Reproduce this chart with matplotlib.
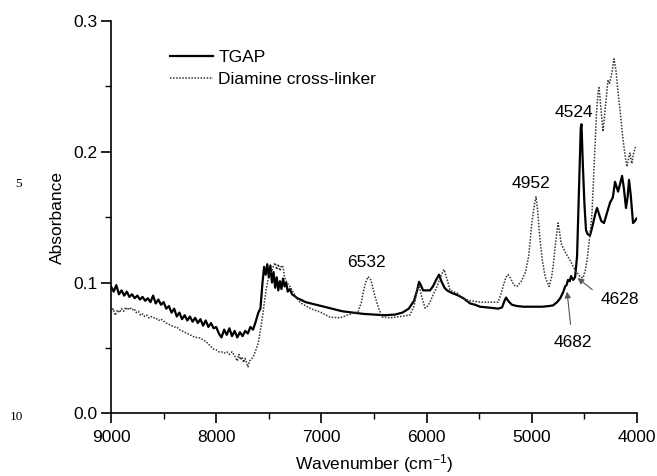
import numpy as np
import matplotlib
matplotlib.use("Agg")
import matplotlib.pyplot as plt

plt.rcParams['font.family'] = ['Liberation Sans', 'DejaVu Sans']
plt.rcParams['mathtext.default'] = 'regular'

# TGAP spectrum (wavenumber, absorbance)
tgap_wn = [9000, 8975, 8950, 8925, 8900, 8875, 8850, 8825, 8800, 8775, 8750, 8725, 8700, 8675,
           8650, 8625, 8600, 8575, 8550, 8525, 8500, 8475, 8450, 8425, 8400, 8375, 8350, 8325,
           8300, 8275, 8250, 8225, 8200, 8175, 8150, 8125, 8100, 8075, 8050, 8025, 8000, 7975,
           7950, 7925, 7900, 7875, 7850, 7825, 7800, 7775, 7750, 7725, 7700, 7675, 7650, 7625,
           7600, 7580, 7560, 7545, 7530, 7515, 7500, 7485, 7470, 7455, 7440, 7425, 7410, 7395,
           7380, 7365, 7350, 7335, 7320, 7300, 7280, 7260, 7230, 7200, 7150, 7100, 7050, 7000,
           6950, 6900, 6800, 6700, 6600, 6500, 6400, 6300, 6230, 6170, 6120, 6090, 6072, 6055,
           6034, 6000, 5968, 5940, 5910, 5882, 5860, 5830, 5806, 5760, 5711, 5650, 5587, 5540,
           5492, 5430, 5369, 5320, 5283, 5260, 5245, 5225, 5190, 5141, 5080, 4989, 4900, 4840,
           4798, 4760, 4730, 4700, 4684, 4670, 4656, 4640, 4627, 4608, 4589, 4570, 4550, 4535,
           4528, 4515, 4500, 4485, 4470, 4447, 4430, 4410, 4395, 4380, 4360, 4340, 4314, 4290,
           4257, 4230, 4209, 4190, 4180, 4160, 4142, 4125, 4105, 4090, 4076, 4060, 4038, 4020,
           4005]
tgap_abs = [0.097, 0.093, 0.098, 0.091, 0.094, 0.090, 0.093, 0.089, 0.091, 0.088, 0.090, 0.087,
            0.089, 0.086, 0.088, 0.085, 0.090, 0.084, 0.087, 0.083, 0.085, 0.080, 0.082, 0.077,
            0.080, 0.074, 0.077, 0.072, 0.075, 0.071, 0.074, 0.070, 0.073, 0.069, 0.072, 0.067,
            0.071, 0.066, 0.069, 0.065, 0.066, 0.061, 0.058, 0.064, 0.060, 0.065, 0.059, 0.063,
            0.058, 0.062, 0.059, 0.063, 0.061, 0.066, 0.064, 0.070, 0.077, 0.080, 0.100, 0.112,
            0.106, 0.114, 0.104, 0.113, 0.100, 0.108, 0.096, 0.104, 0.094, 0.101, 0.095, 0.103,
            0.097, 0.100, 0.093, 0.095, 0.091, 0.090, 0.088, 0.087, 0.085, 0.084, 0.083, 0.082,
            0.081, 0.080, 0.078, 0.077, 0.076, 0.0755, 0.075, 0.0755, 0.077, 0.080, 0.086, 0.094,
            0.1005, 0.098, 0.094, 0.094, 0.094, 0.097, 0.102, 0.106, 0.101, 0.096, 0.094, 0.092,
            0.0905, 0.088, 0.084, 0.083, 0.0815, 0.081, 0.0805, 0.080, 0.081, 0.086, 0.0885, 0.086,
            0.083, 0.082, 0.0815, 0.0815, 0.0815, 0.082, 0.0825, 0.085, 0.088, 0.093, 0.097, 0.098,
            0.102, 0.101, 0.105, 0.102, 0.104, 0.120, 0.175, 0.218, 0.221, 0.190, 0.160, 0.140,
            0.137, 0.136, 0.141, 0.148, 0.153, 0.157, 0.152, 0.147, 0.1455, 0.152, 0.161, 0.165,
            0.177, 0.172, 0.1695, 0.176, 0.1815, 0.172, 0.157, 0.165, 0.1785, 0.167, 0.1455, 0.147,
            0.149]

# Diamine cross-linker spectrum
dia_wn = [9000, 8980, 8960, 8940, 8920, 8900, 8880, 8860, 8840, 8820, 8800, 8780, 8760, 8740,
          8720, 8700, 8680, 8660, 8640, 8620, 8600, 8575, 8550, 8525, 8500, 8475, 8450, 8425,
          8400, 8375, 8350, 8325, 8300, 8275, 8250, 8225, 8200, 8175, 8150, 8125, 8100, 8075,
          8050, 8025, 8000, 7975, 7950, 7925, 7900, 7875, 7850, 7825, 7800, 7785, 7770, 7755,
          7740, 7725, 7710, 7698, 7685, 7670, 7650, 7625, 7600, 7575, 7555, 7527, 7505, 7490,
          7470, 7455, 7440, 7425, 7410, 7394, 7380, 7365, 7350, 7330, 7300, 7250, 7200, 7100,
          7000, 6918, 6823, 6757, 6700, 6652, 6620, 6604, 6580, 6557, 6530, 6490, 6450, 6424,
          6348, 6250, 6158, 6120, 6091, 6072, 6050, 6015, 5990, 5968, 5930, 5901, 5870, 5835,
          5800, 5777, 5711, 5654, 5580, 5492, 5400, 5321, 5290, 5274, 5245, 5226, 5200, 5170,
          5141, 5100, 5060, 5030, 5000, 4975, 4960, 4945, 4922, 4900, 4874, 4836, 4810, 4798,
          4775, 4751, 4735, 4722, 4700, 4684, 4660, 4637, 4589, 4542, 4513, 4490, 4475, 4450,
          4428, 4410, 4399, 4385, 4370, 4361, 4345, 4323, 4300, 4276, 4262, 4247, 4235, 4219,
          4200, 4180, 4162, 4133, 4110, 4095, 4080, 4067, 4055, 4048, 4035, 4019, 4005]
dia_abs = [0.077, 0.080, 0.075, 0.079, 0.077, 0.080, 0.078, 0.081, 0.079, 0.081, 0.079, 0.080,
           0.077, 0.078, 0.075, 0.076, 0.074, 0.075, 0.073, 0.074, 0.073, 0.073, 0.071, 0.072,
           0.0705, 0.069, 0.068, 0.067, 0.066, 0.066, 0.064, 0.063, 0.062, 0.061, 0.060, 0.059,
           0.058, 0.058, 0.0575, 0.056, 0.055, 0.053, 0.051, 0.049, 0.0485, 0.047, 0.047, 0.046,
           0.047, 0.045, 0.047, 0.044, 0.040, 0.045, 0.041, 0.043, 0.039, 0.042, 0.038, 0.0355,
           0.040, 0.041, 0.043, 0.048, 0.054, 0.066, 0.077, 0.094, 0.103, 0.107, 0.109, 0.113,
           0.115, 0.110, 0.114, 0.109, 0.113, 0.112, 0.104, 0.100, 0.097, 0.090, 0.0845, 0.080,
           0.077, 0.0735, 0.073, 0.075, 0.0765, 0.0775, 0.085, 0.092, 0.100, 0.1045, 0.102, 0.089,
           0.079, 0.0737, 0.073, 0.074, 0.0752, 0.082, 0.094, 0.098, 0.090, 0.0805, 0.082, 0.085,
           0.092, 0.097, 0.104, 0.110, 0.101, 0.094, 0.092, 0.0875, 0.086, 0.085, 0.085, 0.085,
           0.092, 0.097, 0.104, 0.106, 0.103, 0.098, 0.097, 0.101, 0.108, 0.120, 0.1455, 0.160,
           0.1655, 0.155, 0.1325, 0.117, 0.1045, 0.097, 0.105, 0.112, 0.130, 0.1455, 0.138, 0.130,
           0.126, 0.1235, 0.120, 0.117, 0.1095, 0.1045, 0.1035, 0.110, 0.117, 0.135, 0.153, 0.185,
           0.204, 0.230, 0.246, 0.249, 0.235, 0.2155, 0.235, 0.255, 0.252, 0.257, 0.262, 0.271,
           0.262, 0.245, 0.232, 0.209, 0.195, 0.1885, 0.195, 0.199, 0.193, 0.191, 0.198, 0.203,
           0.204]

# peak labels: text, text position (wn, abs), arrow target or None
peak_labels = ["6532", "4952", "4524", "4628", "4682"]
label_pos = [(6570, 0.115), (5010, 0.1755), (4600, 0.2298), (4160, 0.0867), (4608, 0.0538)]
arrow_tip = [None, None, None, (4565, 0.1035), (4665, 0.093)]
arrow_tail = [None, None, None, (4425, 0.0945), (4632, 0.068)]

fig = plt.figure(figsize=(6.57, 4.76), dpi=100)
ax = fig.add_axes([0.169, 0.1317, 0.8006, 0.8243])

ax.plot(tgap_wn, tgap_abs, color='black', lw=1.6, label='TGAP')
ax.plot(dia_wn, dia_abs, color='#333333', lw=1.1, ls=(0, (1, 1)), label='Diamine cross-linker')

ax.set_xlim(9000, 4000)
ax.set_ylim(0, 0.3)
ax.set_xticks([9000, 8000, 7000, 6000, 5000, 4000])
ax.set_xticks([8500, 7500, 6500, 5500, 4500], minor=True)
ax.set_yticks([0.0, 0.1, 0.2, 0.3])
ax.set_yticklabels(['0.0', '0.1', '0.2', '0.3'])
ax.set_yticks([0.05, 0.15, 0.25], minor=True)

for s in ['top', 'right']:
    ax.spines[s].set_visible(False)
for s in ['left', 'bottom']:
    ax.spines[s].set_linewidth(1.2)
ax.tick_params(which='major', direction='out', length=7, width=1.2, labelsize=12.5)
ax.tick_params(which='minor', direction='out', length=4, width=1.0)
ax.tick_params(axis='y', pad=3)
ax.tick_params(axis='x', pad=5)

ax.set_xlabel('Wavenumber (cm$^{-1}$)', fontsize=12.5, labelpad=5)
ax.set_ylabel('Absorbance', fontsize=12.5, labelpad=6)

for i in range(len(peak_labels)):
    ax.text(label_pos[i][0], label_pos[i][1], peak_labels[i], fontsize=12.5,
            ha='center', va='center')
    if arrow_tip[i] is not None:
        ax.annotate('', xy=arrow_tip[i], xytext=arrow_tail[i],
                    arrowprops=dict(arrowstyle='-|>', color='#555555', lw=0.8,
                                    mutation_scale=9, shrinkA=0, shrinkB=0))

ax.legend(loc='upper left', bbox_to_anchor=(0.098, 0.945), frameon=False, fontsize=12.5,
          handlelength=2.5, handletextpad=0.3, labelspacing=0.4, borderaxespad=0)

# stray manuscript line numbers
fig.text(18 / 657, 1 - 184 / 476, '5', fontsize=9.5, family='Liberation Serif', ha='center', va='center')
fig.text(16 / 657, 1 - 417 / 476, '10', fontsize=9.5, family='Liberation Serif', ha='center', va='center')

fig.savefig('out.png', dpi=100)
